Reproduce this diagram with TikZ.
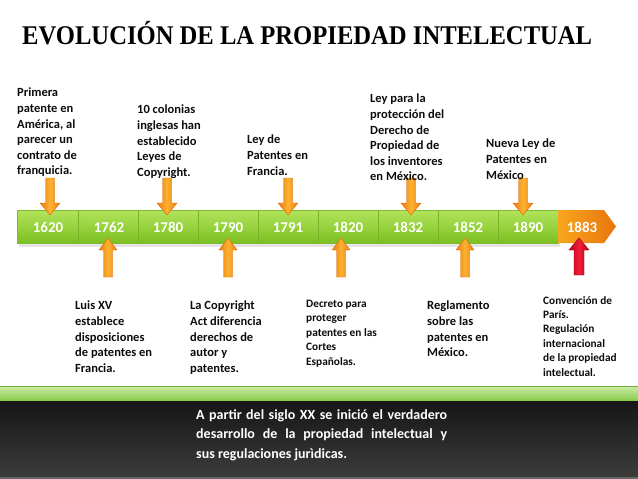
\documentclass[tikz,border=0pt]{standalone}
\usepackage{fontspec}
\setmainfont[Numbers=Lining]{Carlito}
\newfontfamily\titlefont{Liberation Serif}
\definecolor{barTop}{RGB}{178,228,92}
\definecolor{barBot}{RGB}{124,192,34}
\definecolor{barEdge}{RGB}{128,186,50}
\definecolor{divCol}{RGB}{122,178,44}
\definecolor{orEdge}{RGB}{214,108,8}
\definecolor{orSide}{RGB}{236,124,12}
\definecolor{orMid}{RGB}{252,178,50}
\definecolor{redSide}{RGB}{190,0,24}
\definecolor{redMid}{RGB}{240,30,56}
\definecolor{chevL}{RGB}{248,166,30}
\definecolor{chevR}{RGB}{232,116,12}
\definecolor{txtCol}{RGB}{12,12,12}
\definecolor{bandTop}{RGB}{205,235,165}
\definecolor{bandBot}{RGB}{134,202,72}
\definecolor{darkTop}{RGB}{22,22,22}
\definecolor{darkBot}{RGB}{60,60,60}
\begin{document}
\begin{tikzpicture}[x=1pt,y=-1pt,
  yearlbl/.style={anchor=base,text=white,font=\fontsize{15}{15}\selectfont\bfseries,inner sep=0},
  toptxt/.style={anchor=north west,inner sep=0,align=left,text=txtCol,
    font=\fontsize{12.5}{15.6}\selectfont\bfseries},
  smalltxt/.style={anchor=north west,inner sep=0,align=left,text=txtCol,
    font=\fontsize{11.3}{14.4}\selectfont\bfseries},
  divider/.style={draw=divCol,line width=0.6pt},
  downarr/.pic={\shade[left color=orSide,right color=orSide,middle color=orMid,draw=orEdge,line width=0.4pt]
     (-4.5,0) -- (4.5,0) -- (4.5,25) -- (10,25) -- (0,37) -- (-10,25) -- (-4.5,25) -- cycle;},
  uparr/.pic={\shade[left color=orSide,right color=orSide,middle color=orMid,draw=orEdge,line width=0.4pt]
     (0,0) -- (9,12) -- (4.5,12) -- (4.5,39) -- (-4.5,39) -- (-4.5,12) -- (-9,12) -- cycle;},
  redarr/.pic={\shade[left color=redSide,right color=redSide,middle color=redMid,draw=redSide!80!black,line width=0.4pt]
     (0,0) -- (10,12) -- (5,12) -- (5,37) -- (-5,37) -- (-5,12) -- (-10,12) -- cycle;},
]
\useasboundingbox (0,0) rectangle (638,479);
\fill[white] (0,0) rectangle (638,479);

% title
\node[anchor=base west,inner sep=0,text=black] (title) at (22,45)
  {\resizebox{570pt}{\height}{\titlefont\bfseries\fontsize{27}{27}\selectfont EVOLUCIÓN DE LA PROPIEDAD INTELECTUAL}};

% timeline bar
\fill[black,opacity=0.10] (19,243) rectangle (560,247);
\shade[top color=barTop,bottom color=barBot,draw=barEdge,line width=0.5pt] (17,210) rectangle (558,243);
\foreach \xx in {78,138,198,258,318,378,438,498}
  \draw[divider] (\xx,210.5) -- (\xx,242.5);
\shade[left color=chevL,right color=chevR] (558,210) -- (604,210) -- (616,226.5) -- (604,243) -- (558,243) -- cycle;

\node[yearlbl] (y1620) at (48,232) {1620};
\node[yearlbl] (y1762) at (109,232) {1762};
\node[yearlbl] (y1780) at (168,232) {1780};
\node[yearlbl] (y1790) at (228,232) {1790};
\node[yearlbl] (y1791) at (288,232) {1791};
\node[yearlbl] (y1820) at (348,232) {1820};
\node[yearlbl] (y1832) at (408,232) {1832};
\node[yearlbl] (y1852) at (468,232) {1852};
\node[yearlbl] (y1890) at (528,232) {1890};
\node[yearlbl] (y1883) at (582,232) {1883};

% arrows from above
\pic at (50,178) {downarr};
\pic at (167,178) {downarr};
\pic at (288,178) {downarr};
\pic at (411,178) {downarr};
\pic at (523,178) {downarr};
% arrows from below
\pic at (108,238) {uparr};
\pic at (228,238) {uparr};
\pic at (341,238) {uparr};
\pic at (465,238) {uparr};
\pic at (579,238) {redarr};

% upper texts
\node[toptxt] (t1620) at (17,88) {Primera\\patente en\\América, al\\parecer un\\contrato de\\franquicia.};
\node[toptxt] (t1780) at (137,105) {10 colonias\\inglesas han\\establecido\\Leyes de\\Copyright.};
\node[toptxt] (t1791) at (247,135) {Ley de\\Patentes en\\Francia.};
\node[toptxt] (t1832) at (370,94) {Ley para la\\protección del\\Derecho de\\Propiedad de\\los inventores\\en México.};
\node[toptxt] (t1890) at (486,139) {Nueva Ley de\\Patentes en\\México};

% lower texts
\node[toptxt] (b1762) at (75,301) {Luis XV\\establece\\disposiciones\\de patentes en\\Francia.};
\node[toptxt] (b1790) at (190,301) {La Copyright\\Act diferencia\\derechos de\\autor y\\patentes.};
\node[smalltxt] (b1820) at (306,300) {Decreto para\\proteger\\patentes en las\\Cortes\\Españolas.};
\node[toptxt] (b1852) at (427,301) {Reglamento\\sobre las\\patentes en\\México.};
\node[smalltxt] (b1883) at (543,296) {Convención de\\París.\\Regulación\\internacional\\de la propiedad\\intelectual.};

% bottom banner
\shade[top color=bandTop,bottom color=bandBot] (0,386) rectangle (638,401);
\draw[color=bandBot!85!black,line width=0.8pt] (0,386.4) -- (638,386.4);
\shade[top color=darkTop,bottom color=darkBot] (0,401) rectangle (638,477);
\fill[black!60] (0,477) rectangle (638,479);

\node[anchor=north west,inner sep=0,text=white,align=left,
      font=\fontsize{14}{19.5}\selectfont\bfseries] (pie) at (196,409)
  {\makebox[251pt][s]{A partir del siglo XX se inició el verdadero}\\
   \makebox[251pt][s]{desarrollo de la propiedad intelectual y}\\
   sus regulaciones jurìdicas.};
\end{tikzpicture}
\end{document}
